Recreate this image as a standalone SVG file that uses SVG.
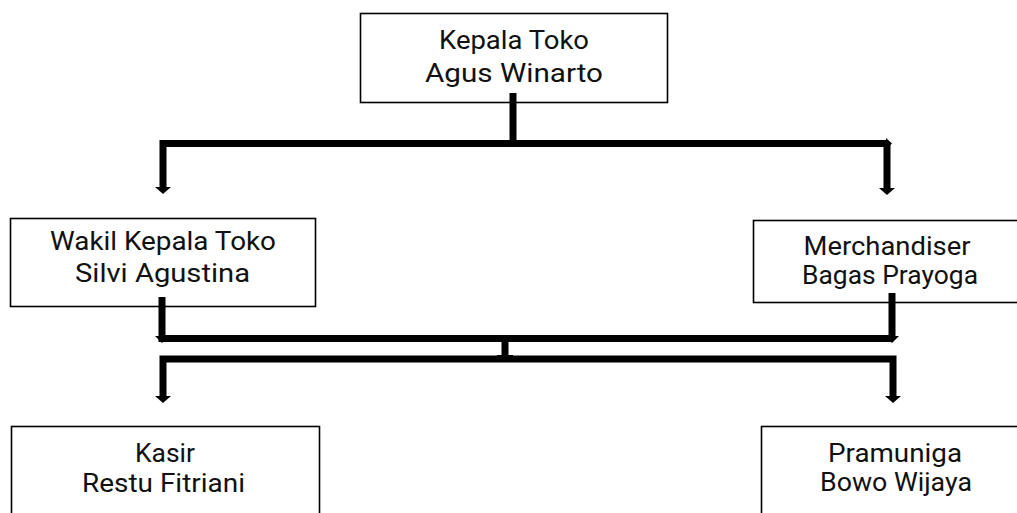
<svg xmlns="http://www.w3.org/2000/svg" width="1017" height="513" viewBox="0 0 1017 513">
<style>
.box{fill:#fff;stroke:#000;stroke-width:1.6}
.t{font-family:Roboto,"Liberation Sans",sans-serif;font-size:25.5px;fill:#111;text-anchor:middle}
.c{fill:none;stroke:#000;stroke-width:7;stroke-linejoin:miter;stroke-linecap:butt}
.a{fill:#000}
</style>
<rect width="1017" height="513" fill="#fff"/>
<g id="kepala">
<rect class="box" x="360.5" y="13.5" width="307" height="89"/>
<text class="t" x="514" y="49" textLength="150" lengthAdjust="spacingAndGlyphs">Kepala Toko</text>
<text class="t" x="514" y="82" textLength="178" lengthAdjust="spacingAndGlyphs">Agus Winarto</text>
</g>
<g id="wakil">
<rect class="box" x="10.5" y="218.5" width="305" height="88"/>
<text class="t" x="163" y="249.5" textLength="226" lengthAdjust="spacingAndGlyphs">Wakil Kepala Toko</text>
<text class="t" x="162.5" y="282" textLength="175" lengthAdjust="spacingAndGlyphs">Silvi Agustina</text>
</g>
<g id="merchandiser">
<rect class="box" x="753.5" y="220.5" width="270" height="82"/>
<text class="t" x="887" y="255" textLength="167" lengthAdjust="spacingAndGlyphs">Merchandiser</text>
<text class="t" x="890" y="284" textLength="176" lengthAdjust="spacingAndGlyphs">Bagas Prayoga</text>
</g>
<g id="kasir">
<rect class="box" x="11.5" y="426.5" width="308" height="100"/>
<text class="t" x="165" y="462" textLength="60" lengthAdjust="spacingAndGlyphs">Kasir</text>
<text class="t" x="163.5" y="492" textLength="163" lengthAdjust="spacingAndGlyphs">Restu Fitriani</text>
</g>
<g id="pramuniga">
<rect class="box" x="761.5" y="426.5" width="270" height="100"/>
<text class="t" x="895" y="462" textLength="134" lengthAdjust="spacingAndGlyphs">Pramuniga</text>
<text class="t" x="896" y="490.5" textLength="152" lengthAdjust="spacingAndGlyphs">Bowo Wijaya</text>
</g>
<g id="connectors">
<path class="c" d="M513 93V143"/>
<path class="c" d="M163 188V143.5H887"/>
<path class="c" d="M887 143.5V189"/>
<polygon class="a" points="155,187 171,187 163,194"/>
<polygon class="a" points="879,188 895,188 887,195"/>
<polygon class="a" points="886,138 892,143.5 886,149"/>
<path class="c" d="M162 297V338.5H892"/>
<path class="c" d="M892 293V338"/>
<polygon class="a" points="155,336 170,336 162,343"/>
<polygon class="a" points="885,336 899,336 892,343"/>
<path class="c" d="M505 338V359"/>
<path class="c" d="M497 356H513" style="stroke-width:2"/>
<path class="c" d="M163 397V359H893V397"/>
<polygon class="a" points="155,396 171,396 163,403"/>
<polygon class="a" points="885,396 901,396 893,403"/>
</g>
</svg>
